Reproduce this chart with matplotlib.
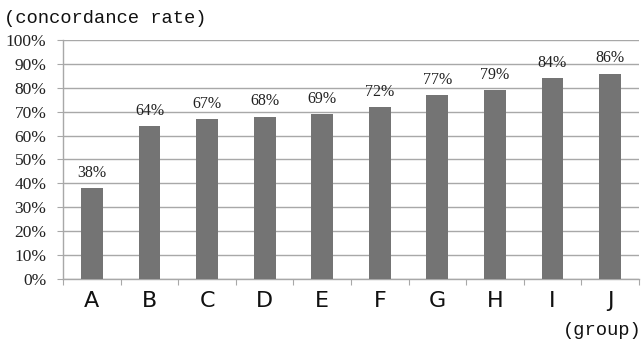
import matplotlib.pyplot as plt
from matplotlib.ticker import MultipleLocator, FuncFormatter

groups = ["A", "B", "C", "D", "E", "F", "G", "H", "I", "J"]
rates = [38, 64, 67, 68, 69, 72, 77, 79, 84, 86]

bar_color = "#747474"
grid_color = "#a8a8a8"

fig = plt.figure(figsize=(6.44, 3.43), dpi=100)
ax = fig.add_axes([0.098, 0.187, 0.894, 0.696])

x = list(range(len(groups)))
ax.bar(x, rates, width=0.38, color=bar_color, zorder=3)

for xi, r in zip(x, rates):
    ax.text(xi, r + 3, f"{r}%", ha="center", va="bottom",
            fontsize=11.5, family="Liberation Serif", color="#222222")

ax.set_xlim(-0.5, len(groups) - 0.5)
ax.set_ylim(0, 100)
ax.yaxis.set_major_locator(MultipleLocator(10))
ax.yaxis.set_major_formatter(FuncFormatter(lambda v, p: f"{int(v)}%"))
ax.grid(axis="y", color=grid_color, linewidth=1, zorder=0)

# ticks sit between the groups, labels at the bar centres
ax.set_xticks([i - 0.5 for i in range(len(groups) + 1)])
ax.set_xticklabels([])
ax.set_xticks(x, minor=True)
ax.set_xticklabels(groups, minor=True, fontsize=16,
                   family="DejaVu Sans", color="#111111")
ax.tick_params(axis="x", which="major", length=4, color=grid_color, direction="out")
ax.tick_params(axis="x", which="minor", length=0, pad=9)
ax.tick_params(axis="y", length=4, color=grid_color, pad=8, labelsize=12.5)
for lab in ax.get_yticklabels():
    lab.set_family("Liberation Serif")
    lab.set_color("#222222")

for side in ["top", "right"]:
    ax.spines[side].set_visible(False)
for side in ["left", "bottom"]:
    ax.spines[side].set_color(grid_color)
    ax.spines[side].set_linewidth(1)

fig.text(0.006, 0.97, "(concordance rate)", ha="left", va="top",
         fontsize=13.5, family="Liberation Mono", color="#111111")
fig.text(0.996, 0.012, "(group)", ha="right", va="bottom",
         fontsize=13.5, family="Liberation Mono", color="#111111")

fig.savefig("out.png", dpi=100)
